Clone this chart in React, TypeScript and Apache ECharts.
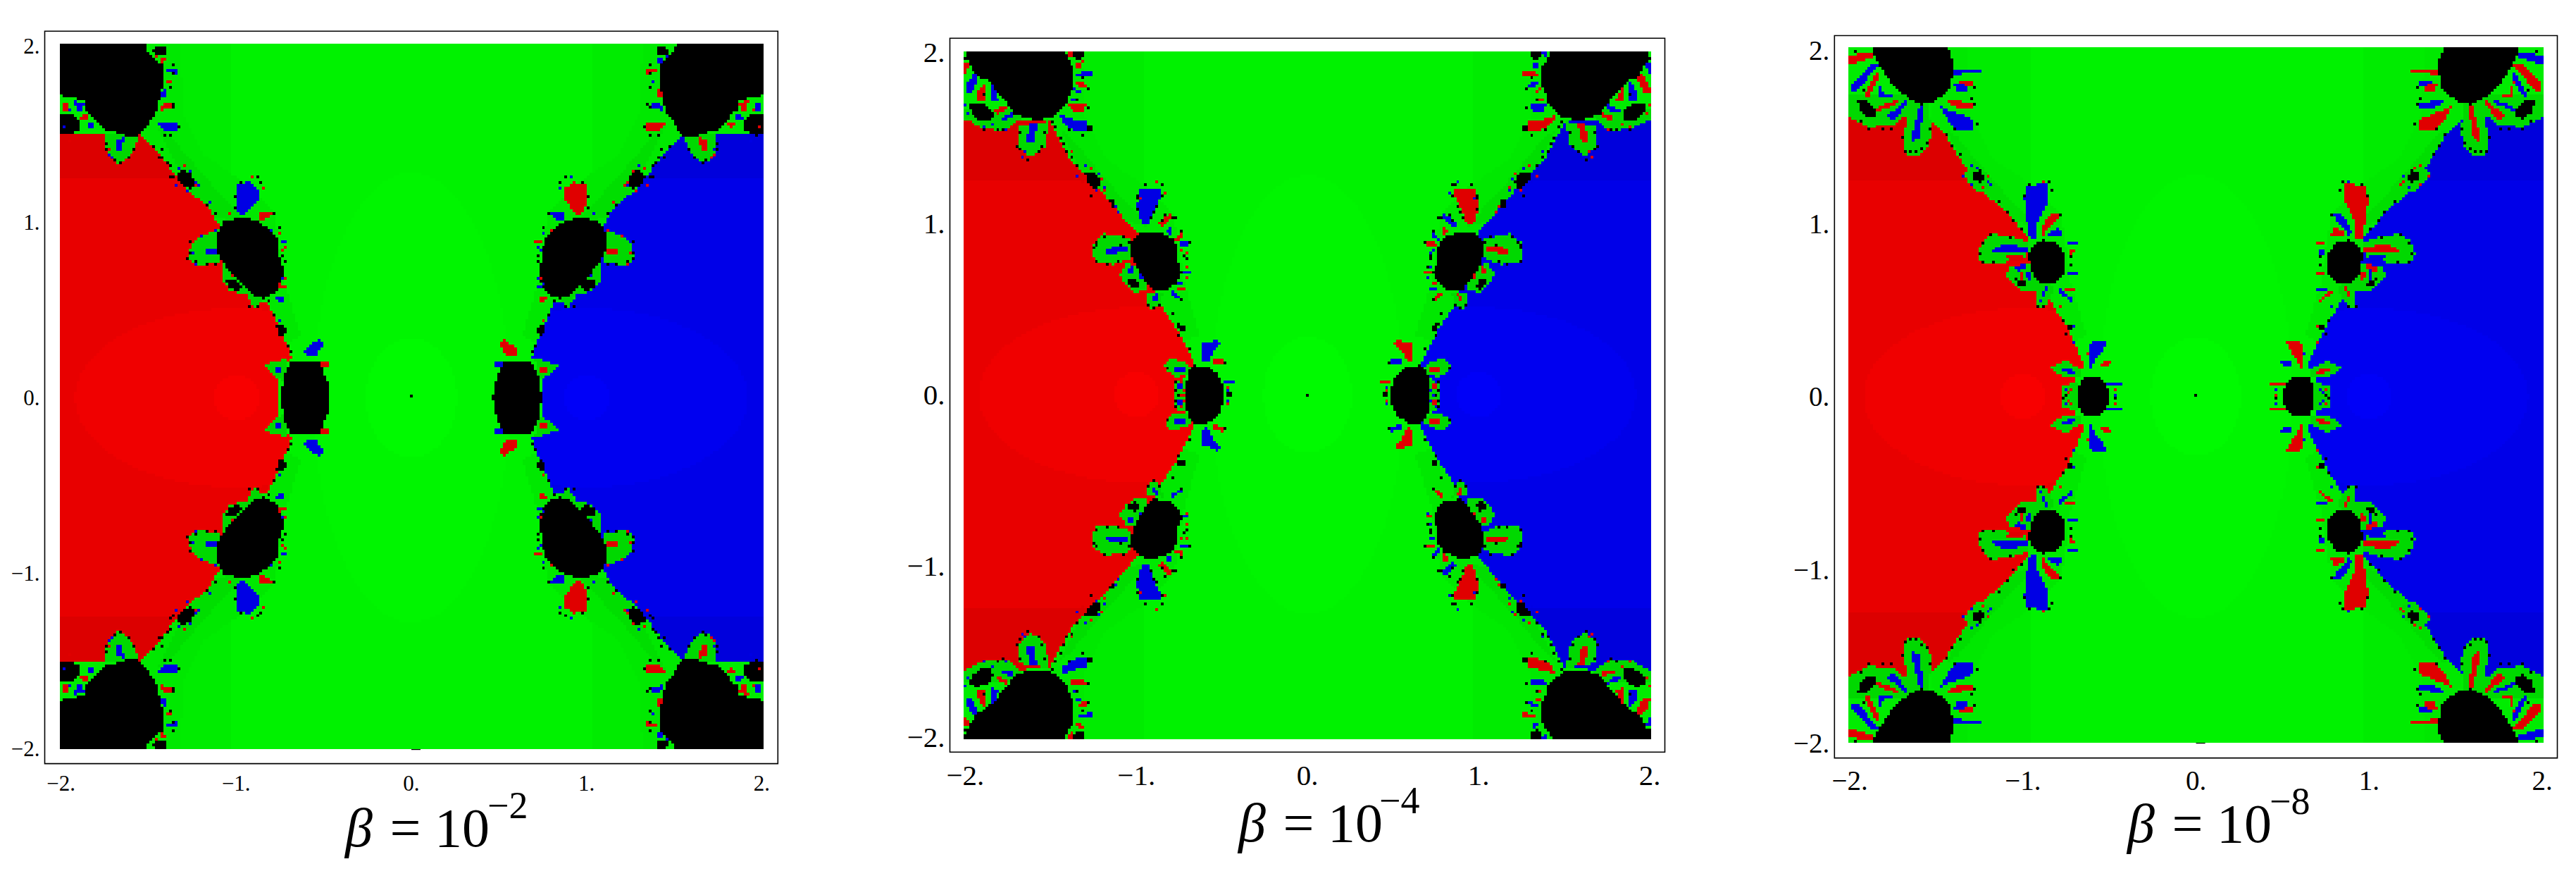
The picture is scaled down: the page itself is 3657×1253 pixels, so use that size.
import React, { useEffect, useRef } from "react";
import * as echarts from "echarts";

type Pt = [number, number];
type Poly = Pt[];

const tickValues = [-2, -1, 0, 1, 2];
const tickText = ["\u22122.", "\u22121.", "0.", "1.", "2."];
const captions = ["\u03b2 = 10", "\u03b2 = 10", "\u03b2 = 10"];
const exponents = ["\u22122", "\u22124", "\u22128"];

// ---------- Basin outlines, upper-left quadrant in data units ----------
const regionP1: Poly[] = [[[-2.03,1.5],[-1.55,1.5],[-1.45,1.4],[-1.36,1.284],[-1.268,1.17],[-1.16,1.09],[-1.09,.963],[-1,.7],[-.93,.562],[-.822,.546],[-.76,.417],[-.698,.273],[-.683,.225],[-.75,.17],[-.75,-.02],[-2.03,-.02]]];
const greenP1: Poly[] = [
  [[-1.742,1.509],[-1.554,1.495],[-1.581,1.422],[-1.615,1.368],[-1.668,1.328],[-1.715,1.362],[-1.742,1.422]],
  [[-1.099,.954],[-1.206,.921],[-1.259,.874],[-1.273,.787],[-1.219,.753],[-1.099,.767]],
  [[-1.085,.78],[-1.085,.673],[-1.031,.606],[-.938,.586],[-.897,.506],[-.837,.566],[-.938,.673]],
  [[-.84,.19],[-.7,.226],[-.73,.1],[-.79,.13]],
];
const blueP1: Poly[] = [
  [[-.998,1.208],[-.931,1.228],[-.873,1.188],[-.877,1.128],[-.918,1.074],[-.958,1.034],[-.991,1.061],[-.998,1.128]],
  [[-1.46,1.576],[-1.34,1.562],[-1.333,1.522],[-1.393,1.513],[-1.434,1.549]],
  [[-1.682,1.475],[-1.641,1.482],[-1.655,1.415],[-1.686,1.415]],
  [[-1.179,.85],[-1.078,.85],[-1.099,.827],[-1.172,.81]],
  [[-.743,.903],[-.696,.9],[-.71,.874],[-.739,.874]],
  [[-1.4,1.877],[-1.333,1.877],[-1.34,1.847],[-1.407,1.85]],
  [[-1.409,1.763],[-1.399,1.763],[-1.4,1.705],[-1.447,1.705],[-1.444,1.73]],
  [[-1.923,1.69],[-1.863,1.683],[-1.883,1.639],[-1.909,1.639]],
  [[-1.849,1.569],[-1.802,1.572],[-1.822,1.542],[-1.846,1.545]],
  [[-.612,.273],[-.529,.337],[-.498,.305],[-.545,.241],[-.591,.234]],
  [[-.777,.58],[-.73,.573],[-.723,.547],[-.763,.553]],
  [[-.777,.171],[-.735,.171],[-.735,.145],[-.777,.145]],
];
const redP1: Poly[] = [
  [[-.871,1.048],[-.81,1.054],[-.81,1.021],[-.871,1.007]],
  [[-1.427,1.669],[-1.367,1.683],[-1.367,1.649],[-1.427,1.639]],
  [[-1.427,1.943],[-1.4,1.943],[-1.409,1.897],[-1.427,1.897]],
  [[-1.99,1.683],[-1.959,1.683],[-1.959,1.639],[-1.99,1.639]],
  [[-1.909,1.602],[-1.836,1.62],[-1.856,1.582],[-1.889,1.576]],
  [[-1.393,1.81],[-1.353,1.79],[-1.393,1.786]],
  [[-.75,.947],[-.743,.92],[-.77,.92]],
  [[-.75,.633],[-.71,.633],[-.71,.617],[-.75,.617]],
  [[-.529,.209],[-.468,.209],[-.474,.183],[-.529,.183]],
];
const blackP1: Poly[] = [
  [[-2.03,2.02],[-1.511,2.02],[-1.503,1.977],[-1.46,1.93],[-1.414,1.89],[-1.414,1.796],[-1.434,1.716],[-1.447,1.636],[-1.487,1.582],[-1.521,1.526],[-1.554,1.495],[-1.608,1.482],[-1.675,1.509],[-1.742,1.522],[-1.782,1.556],[-1.833,1.62],[-1.869,1.647],[-1.869,1.696],[-1.943,1.71],[-2.03,1.73]],
  [[-2.03,1.616],[-1.93,1.616],[-1.896,1.569],[-1.896,1.522],[-1.97,1.495],[-2.03,1.516]],
  [[-1.478,1.99],[-1.4,1.997],[-1.4,1.943],[-1.46,1.957]],
  [[-1.112,.934],[-1.072,1.001],[-.965,1.028],[-.871,1.001],[-.804,.954],[-.757,.9],[-.75,.807],[-.723,.727],[-.737,.66],[-.777,.593],[-.844,.566],[-.911,.586],[-.958,.633],[-1.018,.7],[-1.078,.773],[-1.105,.82]],
  [[-1.34,1.262],[-1.3,1.302],[-1.253,1.268],[-1.233,1.221],[-1.259,1.181],[-1.313,1.215]],
  [[-1.058,.673],[-1.005,.68],[-.965,.633],[-.991,.613],[-1.045,.62]],
  [[-.77,.419],[-.717,.406],[-.71,.366],[-.75,.352]],
  [[-.745,-.02],[-.729,.112],[-.683,.215],[-.529,.215],[-.474,.08],[-.462,-.02]],
];
const specksP1: Pt[] = [[-1.742,1.449],[-1.742,1.409],[-1.715,1.368],[-1.688,1.355],[-1.664,1.328],[-1.615,1.375],[-1.584,1.415],[-1.467,1.435],[-1.427,1.409],[-1.44,1.375],[-1.414,1.362],[-1.393,1.335],[-1.373,1.312],[-1.373,1.262],[-1.36,1.248],[-1.219,1.201],[-1.172,1.101],[-1.125,1.041],[-1.005,1.148],[-1.005,1.074],[-.978,1.228],[-.884,1.248],[-.857,1.221],[-.784,1.041],[-.75,.961],[-.73,.807],[-.723,.78],[-.931,.513],[-.877,.519],[-.817,.546],[-.784,.479],[-.703,.299],[-.69,.259],[-1.259,.88],[-1.266,.827],[-1.273,.787],[-1.233,.773],[-1.172,.753],[-1.119,.767],[-1.36,1.89],[-1.36,1.843],[-1.367,1.776],[-1.353,1.679],[-1.36,1.649],[-1.407,1.502],[-1.367,1.502],[-1.326,1.542]];
const specksBlueP1: Pt[] = [[-1.326,1.308],[-1.266,1.295],[-1.233,1.228],[-1.34,1.215],[-1.279,1.168],[-1.219,1.201],[-1.152,1.108],[-1.729,1.389],[-1.708,1.371],[-1.119,.947],[-1.199,.927],[-1.246,.82],[-1.233,.753],[-.797,.954],[-.737,.673],[-.75,.433],[-1.983,1.536],[-1.95,1.636]];
const specksRedP1: Pt[] = [[-1.293,1.312],[-1.233,1.215],[-1.326,1.215],[-1.729,1.409],[-1.038,1.041],[-.911,1.262],[-.847,1.188],[-.804,1.054],[-1.025,.7],[-.75,.64],[-.723,.687],[-.717,.86],[-.737,.84],[-1.943,1.469],[-1.454,1.937]];

const regionP2: Poly[] = [[[-2.03,1.62],[-1.506,1.6],[-1.386,1.368],[-1.205,1.187],[-.993,.941],[-.95,.75],[-.842,.497],[-.752,.365],[-.655,.168],[-.72,.1],[-.75,-.02],[-2.03,-.02]]];
const greenP2: Poly[] = [
  [[-2.03,1.619],[-1.96,1.592],[-1.891,1.55],[-1.761,1.544],[-1.713,1.585],[-1.672,1.619],[-1.672,1.674],[-2.03,1.674]],
  [[-1.688,1.566],[-1.506,1.6],[-1.537,1.451],[-1.621,1.385],[-1.688,1.451]],
  [[-1.254,.886],[-1.185,.941],[-1.034,.913],[-1.034,.797],[-1.131,.762],[-1.233,.769],[-1.261,.817]],
  [[-1.096,.701],[-1.055,.769],[-1,.755],[-.938,.659],[-.932,.611],[-1.007,.598],[-1.069,.653]],
  [[-.932,.591],[-.843,.598],[-.863,.522],[-.911,.502],[-.934,.536]],
  [[-.836,.172],[-.794,.213],[-.712,.186],[-.664,.152],[-.712,.111],[-.774,.104],[-.822,.138]],
  [[-.774,.083],[-.712,.09],[-.712,-.02],[-.774,-.02]],
];
const blueP2: Poly[] = [
  [[-.979,1.201],[-.862,1.201],[-.862,1.153],[-.91,1.057],[-.931,.988],[-.965,.988],[-1,1.098]],
  [[-1.179,.849],[-1.117,.865],[-1.048,.868],[-1.048,.838],[-1.124,.824],[-1.176,.824]],
  [[-.616,.303],[-.575,.303],[-.534,.33],[-.506,.303],[-.547,.262],[-.582,.193],[-.616,.2]],
  [[-.774,.166],[-.712,.166],[-.712,.135],[-.774,.135]],
  [[-1.994,1.811],[-1.953,1.873],[-1.912,1.873],[-1.96,1.77],[-2.001,1.77]],
  [[-1.843,1.804],[-1.829,1.804],[-1.816,1.736],[-1.768,1.729],[-1.843,1.715]],
  [[-1.795,1.619],[-1.726,1.649],[-1.72,1.619],[-1.781,1.605]],
  [[-1.617,1.585],[-1.576,1.585],[-1.603,1.468],[-1.637,1.468],[-1.637,1.509]],
  [[-1.445,1.633],[-1.356,1.605],[-1.288,1.598],[-1.288,1.53],[-1.37,1.544],[-1.432,1.592]],
  [[-1.322,1.887],[-1.26,1.887],[-1.26,1.859],[-1.349,1.866]],
  [[-1.363,1.79],[-1.329,1.784],[-1.329,1.767],[-1.356,1.767]],
  [[-1.384,1.729],[-1.349,1.742],[-1.349,1.718],[-1.384,1.718]],
  [[-.828,.96],[-.794,.981],[-.787,.926],[-.821,.947]],
  [[-.74,.899],[-.698,.899],[-.698,.872],[-.753,.872]],
  [[-1.048,.742],[-1.017,.755],[-1.021,.714],[-1.048,.714]],
  [[-.984,.721],[-.959,.68],[-.984,.68]],
  [[-.897,.584],[-.874,.591],[-.884,.543],[-.901,.543]],
  [[-.788,.605],[-.726,.556],[-.733,.543],[-.788,.577]],
  [[-.726,.721],[-.682,.725],[-.682,.711],[-.726,.701]],
  [[-.76,.659],[-.733,.659],[-.733,.646],[-.76,.646]],
  [[-.493,.083],[-.424,.081],[-.424,.07],[-.486,.07]],
  [[-.76,.06],[-.73,.06],[-.73,.03],[-.76,.03]],
];
const redP2: Poly[] = [
  [[-1.404,1.699],[-1.294,1.699],[-1.301,1.66],[-1.37,1.653]],
  [[-1.925,1.777],[-1.884,1.825],[-1.884,1.722],[-1.925,1.722]],
  [[-1.829,1.66],[-1.754,1.694],[-1.761,1.66],[-1.816,1.64]],
  [[-2.008,1.935],[-1.973,1.941],[-1.994,1.88],[-2.008,1.88]],
  [[-1.349,1.825],[-1.301,1.825],[-1.288,1.79],[-1.342,1.804]],
  [[-1.349,1.935],[-1.308,1.955],[-1.322,1.914],[-1.349,1.914]],
  [[-1.397,2.02],[-1.37,2.02],[-1.377,1.969],[-1.397,1.976]],
  [[-.876,1.0],[-.828,1.043],[-.794,1.057],[-.794,1.029],[-.849,.974]],
  [[-.78,.913],[-.732,.947],[-.732,.919],[-.766,.899]],
  [[-.76,.625],[-.712,.625],[-.712,.615],[-.76,.615]],
  [[-.554,.207],[-.493,.214],[-.493,.186],[-.554,.176]],
  [[-.75,.02],[-.72,.02],[-.72,-.01],[-.75,-.01]],
];
const blackP2: Poly[] = [
  [[-1.994,2.02],[-1.432,2.02],[-1.397,1.955],[-1.363,1.907],[-1.37,1.852],[-1.37,1.797],[-1.397,1.742],[-1.404,1.701],[-1.452,1.653],[-1.493,1.619],[-1.589,1.605],[-1.651,1.619],[-1.713,1.64],[-1.754,1.701],[-1.795,1.749],[-1.836,1.797],[-1.877,1.839],[-1.925,1.852],[-1.96,1.907],[-1.994,1.962]],
  [[-1.973,1.694],[-1.925,1.708],[-1.864,1.681],[-1.836,1.633],[-1.857,1.598],[-1.905,1.598],[-1.96,1.64],[-1.973,1.667]],
  [[-1.37,2.02],[-1.308,2.02],[-1.301,1.969],[-1.342,1.955],[-1.363,1.976]],
  [[-1.301,1.297],[-1.24,1.297],[-1.212,1.249],[-1.219,1.208],[-1.253,1.208],[-1.294,1.256]],
  [[-1.288,1.571],[-1.257,1.571],[-1.257,1.539],[-1.288,1.539]],
  [[-1.158,1.14],[-1.126,1.14],[-1.126,1.098],[-1.151,1.098]],
  [[-1.028,.893],[-.98,.947],[-.89,.954],[-.794,.92],[-.76,.865],[-.76,.783],[-.733,.714],[-.76,.659],[-.808,.618],[-.904,.611],[-.945,.659],[-1,.742],[-1.028,.81]],
  [[-1.048,.673],[-1,.68],[-.986,.639],[-1.007,.618],[-1.041,.639]],
  [[-.774,.419],[-.719,.406],[-.719,.378],[-.746,.371]],
  [[-.698,.138],[-.657,.172],[-.582,.166],[-.52,.118],[-.493,.056],[-.493,-.02],[-.712,-.02],[-.712,.05]],
  [[-.472,.008],[-.445,.008],[-.445,-.02],[-.472,-.02]],
];
const specksP2: Pt[] = [[-1.884,1.55],[-1.809,1.55],[-1.781,1.548],[-1.699,1.454],[-1.678,1.534],[-1.683,1.427],[-1.63,1.375],[-1.576,1.42],[-1.551,1.454],[-1.534,1.537],[-1.493,1.598],[-1.473,1.564],[-1.438,1.502],[-1.425,1.468],[-1.404,1.42],[-1.37,1.393],[-1.342,1.338],[-1.26,1.166],[-.993,1.159],[-.993,1.084],[-.951,1.221],[-.849,1.221],[-.849,1.166],[-.883,1.098],[-.91,1.036],[-.78,1.036],[-.842,1.015],[-.739,.954],[-.691,.892],[-1.39,1.55],[-1.315,1.516],[-1.315,1.852],[-1.342,1.729],[-1.281,1.79],[-1.281,1.681],[-1.191,.926],[-1.233,.892],[-1.246,.865],[-1.075,.926],[-1.041,.892],[-1.884,1.756],[-2.001,1.955],[-.891,.509],[-.863,.529],[-.932,.529],[-.781,.481],[-.753,.351],[-.692,.268],[-.486,.193],[-.822,.152],[-.712,.79],[-.719,.81],[-.705,.755],[-1.24,.879],[-1.24,.783],[-1.165,.766],[-1.11,.78],[-1.192,.927],[-1.076,.927],[-1.096,.876],[-.74,.55],[-.836,1.057],[-.774,1.037],[-.74,.954],[-.993,1.153],[-.952,1.222],[-.856,1.222],[-.849,1.167],[-.895,1.071],[-1.144,1.126],[-1.103,1.071],[-.77,.03],[-.75,.0],[-.766,.075]];
const specksBlueP2: Pt[] = [[-1.294,1.338],[-1.349,1.276],[-1.212,1.29],[-1.178,1.214],[-1.24,1.201],[-1.123,1.105],[-1.102,1.07],[-1.761,1.55],[-1.891,1.564],[-1.836,1.585],[-1.665,1.39],[-1.647,1.42],[-2.001,1.694],[-1.987,1.646],[-.46,.03]];
const specksRedP2: Pt[] = [[-1.377,1.42],[-1.267,1.324],[-1.198,1.262],[-1.185,1.194],[-1.315,1.235],[-.883,1.249],[-.835,1.18],[-.98,1.15],[-.74,.845],[-.712,.831],[-.712,.755],[-.705,.687],[-.745,.07],[-.72,.03],[-.47,.05]];
const bottomBlackP2: Poly[] = [[[-2.03,-2.02],[-1.98,-1.94],[-1.85,-1.8],[-1.8,-2.02]]];

const regionP3: Poly[] = [[[-2.03,1.625],[-1.537,1.605],[-1.442,1.503],[-1.374,1.395],[-1.238,1.191],[-1.103,1.069],[-.967,.92],[-.96,.811],[-.818,.513],[-.763,.431],[-.696,.296],[-.641,.174],[-.7,.1],[-.7,-.02],[-2.03,-.02]]];
const greenP3: Poly[] = [
  [[-2.03,1.625],[-1.896,1.558],[-1.754,1.564],[-1.693,1.612],[-1.537,1.605],[-1.537,1.75],[-2.03,1.75]],
  [[-1.645,1.68],[-1.55,1.68],[-1.526,1.53],[-1.55,1.449],[-1.578,1.401],[-1.672,1.395],[-1.693,1.476],[-1.679,1.558]],
  [[-.967,.893],[-1.076,.927],[-1.184,.94],[-1.238,.9],[-1.265,.818],[-1.232,.764],[-1.13,.764],[-.981,.811]],
  [[-.967,.771],[-1.076,.744],[-1.096,.696],[-1.008,.601],[-.926,.608],[-.926,.52],[-.879,.506],[-.818,.621]],
  [[-1.347,1.286],[-1.292,1.34],[-1.198,1.279],[-1.164,1.218],[-1.252,1.178],[-1.32,1.245]],
  [[-.838,.174],[-.75,.208],[-.662,.154],[-.669,.113],[-.75,.106],[-.825,.147]],
  [[-.777,.066],[-.682,.079],[-.682,-.02],[-.777,-.02]],
];
const blueP3: Poly[] = [
  [[-.981,1.218],[-.852,1.232],[-.852,1.137],[-.913,1.015],[-.919,.906],[-.96,.92],[-.987,1.055],[-.994,1.15]],
  [[-1.171,.852],[-1.103,.886],[-.967,.859],[-.974,.832],[-1.103,.832],[-1.171,.825]],
  [[-1.598,1.68],[-1.577,1.68],[-1.591,1.503],[-1.639,1.469],[-1.639,1.517]],
  [[-1.489,1.7],[-1.455,1.666],[-1.293,1.605],[-1.286,1.53],[-1.374,1.541],[-1.428,1.585]],
  [[-1.394,1.883],[-1.245,1.89],[-1.245,1.867],[-1.394,1.863]],
  [[-1.991,1.808],[-1.876,1.924],[-1.828,1.924],[-1.957,1.768],[-1.991,1.768]],
  [[-1.842,1.829],[-1.828,1.734],[-1.754,1.734],[-1.815,1.754],[-1.828,1.808]],
  [[-1.795,1.612],[-1.679,1.713],[-1.672,1.686],[-1.74,1.605]],
  [[-.987,.723],[-.947,.723],[-.947,.676],[-.987,.683]],
  [[-.906,.54],[-.865,.642],[-.852,.642],[-.879,.574]],
  [[-.791,.621],[-.709,.56],[-.716,.547],[-.791,.594]],
  [[-.608,.31],[-.513,.33],[-.54,.269],[-.587,.215],[-.601,.161],[-.619,.161],[-.619,.242]],
  [[-.777,.161],[-.723,.167],[-.682,.127],[-.764,.14]],
  [[-.52,.086],[-.425,.086],[-.425,.072],[-.52,.072]],
  [[-.73,.072],[-.682,.072],[-.682,.059],[-.73,.059]],
  [[-1.401,1.81],[-1.325,1.802],[-1.319,1.761],[-1.374,1.761]],
  [[-.75,.899],[-.682,.899],[-.689,.886],[-.75,.879]],
  [[-.743,.723],[-.682,.723],[-.689,.71],[-.743,.71]],
  [[-.858,.947],[-.79,.981],[-.777,.92],[-.852,.92]],
  [[-1.048,.744],[-.994,.771],[-.98,.75],[-1.035,.716]],
];
const redP3: Poly[] = [
  [[-2.03,1.965],[-1.849,1.992],[-1.849,1.965],[-2.03,1.903]],
  [[-1.923,1.727],[-1.862,1.842],[-1.835,1.876],[-1.828,1.849],[-1.896,1.72]],
  [[-1.849,1.666],[-1.72,1.72],[-1.713,1.7],[-1.835,1.646]],
  [[-1.449,1.72],[-1.293,1.693],[-1.293,1.666],[-1.374,1.666],[-1.435,1.7]],
  [[-1.394,1.829],[-1.286,1.822],[-1.286,1.788],[-1.347,1.802]],
  [[-.899,.96],[-.845,1.049],[-.784,1.062],[-.791,1.042],[-.865,.96],[-.879,.92]],
  [[-1.103,.811],[-.994,.811],[-.994,.79],[-1.062,.777]],
  [[-.736,.852],[-.702,.845],[-.709,.811],[-.736,.811]],
  [[-.763,.628],[-.702,.628],[-.702,.615],[-.763,.615]],
  [[-.54,.215],[-.486,.215],[-.5,.188],[-.554,.167]],
  [[-1.008,.73],[-1.001,.73],[-1.001,.649],[-1.014,.649]],
];
const blackP3: Poly[] = [
  [[-1.862,2.02],[-1.435,2.02],[-1.401,1.937],[-1.408,1.842],[-1.428,1.761],[-1.469,1.734],[-1.523,1.7],[-1.591,1.686],[-1.639,1.713],[-1.7,1.747],[-1.767,1.822],[-1.835,1.924],[-1.862,1.978]],
  [[-1.957,1.707],[-1.903,1.713],[-1.856,1.666],[-1.842,1.625],[-1.883,1.605],[-1.944,1.646]],
  [[-1.286,1.286],[-1.245,1.307],[-1.218,1.259],[-1.252,1.232],[-1.286,1.259]],
  [[-.967,.811],[-.947,.866],[-.886,.906],[-.804,.892],[-.757,.811],[-.763,.703],[-.818,.655],[-.886,.655],[-.94,.696]],
  [[-1.042,.682],[-.994,.676],[-.987,.635],[-1.021,.635]],
  [[-.743,.418],[-.716,.411],[-.716,.377],[-.743,.377]],
  [[-.676,.066],[-.655,.106],[-.554,.106],[-.499,.038],[-.499,-.02],[-.676,-.02]],
];
const specksP3: Pt[] = [[-1.971,1.985],[-1.923,1.775],[-1.937,1.598],[-1.89,1.551],[-1.808,1.551],[-1.754,1.551],[-1.693,1.49],[-1.679,1.422],[-1.645,1.408],[-1.618,1.408],[-1.584,1.425],[-1.55,1.456],[-1.534,1.544],[-1.442,1.517],[-1.408,1.449],[-1.367,1.401],[-1.388,1.551],[-1.265,1.571],[-1.279,1.693],[-1.293,1.713],[-1.282,1.791],[-1.143,1.123],[-1.089,1.056],[-1.062,1.008],[-1.008,.961],[-.987,1.164],[-.96,1.218],[-.852,1.232],[-.831,1.198],[-1.184,.94],[-1.076,.927],[-1.232,.893],[-1.252,.818],[-1.232,.771],[-1.171,.771],[-1.008,.649],[-.919,.526],[-.879,.513],[-.777,1.042],[-.716,.804],[-.716,.757],[-.763,.445],[-.75,.357],[-.771,.011],[-.757,-.009],[-.459,.011]];
const specksBlueP3: Pt[] = [[-1.299,1.34],[-1.265,1.313],[-1.347,1.279],[-1.204,1.245],[-1.177,1.218],[-1.299,1.218],[-.702,.404],[-.702,.316],[-.75,.045],[-.459,-.002]];
const specksRedP3: Pt[] = [[-1.198,1.272],[-1.238,1.205],[-.791,.52],[-.628,.242],[-.879,1.245],[-.72,.036],[-.735,.02],[-.465,.038]];

// Faint contour bands of the three basins
const greenShadeOuter: Poly = [[-1.42,2.02],[-1.32,2.02],[-1.3,1.62],[-1.18,1.38],[-.95,1.22],[-.78,1.05],[-.72,.65],[-.63,.35],[-.75,.3],[-1.6,1.4]];
const greenShadeInner: Poly = [[-1.45,1.55],[-1.38,1.5],[-1.2,1.28],[-1,1.06],[-.93,.98],[-1.2,1.05]];
const greenTopBand = [1.03, 0.96, 0.96];
const greenEllipses = [[0, 0, 0.56, 1.28], [0, 0, 0.26, 0.34]];
const basinEllipses = [[-1.0, 0, 1.65, 1.14], [-1.0, 0, 0.92, 0.51], [-1.0, 0, 0.13, 0.13]];

const PALETTE = [
  "#00ec00", "#00f200", "#00f500", "#00fa00", "#00e800", "#00de00", "#00d800",
  "#dc0000", "#e80000", "#f00000", "#f80000", "#ff0000", "#e00000",
  "#0000dc", "#0000e8", "#0000f0", "#0000f8", "#0000ff", "#0000e4",
  "#000000",
];
const G = { base: 0, mid: 1, hi: 2, top: 3, sh1: 4, sh2: 5, petal: 6 };
const RED0 = 7, BLUE0 = 13, BLACK = 19;

const CELL = 0.016;

type Panel = {
  frame: [number, number, number, number];
  range: [number, number, number, number];
  image: [number, number, number, number];
  region: Poly[]; green: Poly[]; blue: Poly[]; red: Poly[]; black: Poly[]; specks: Pt[]; specksBlue: Pt[]; specksRed: Pt[]; bottomBlack: Poly[];
  topBand: number; fontSize: number; capX: number; capY: number; expX: number; expY: number;
};

const panels: Panel[] = [
  { frame: [63.5, 44.3, 1040.8, 1039.3], range: [-2.0925, 2.092, -2.083, 2.087], image: [-2.006, 2.009, -2.0, 2.008],
    region: regionP1, green: greenP1, blue: blueP1, red: redP1, black: blackP1, specks: specksP1, specksBlue: specksBlueP1, specksRed: specksRedP1, bottomBlack: [],
    topBand: greenTopBand[0], fontSize: 31, capX: 490, capY: 1203, expX: 692, expY: 1163 },
  { frame: [1348.5, 54.3, 1015, 1013], range: [-2.09, 2.088, -2.087, 2.082], image: [-2.01, 2.004, -2.013, 2.003],
    region: regionP2, green: greenP2, blue: blueP2, red: redP2, black: blackP2, specks: specksP2, specksBlue: specksBlueP2, specksRed: specksRedP2, bottomBlack: bottomBlackP2,
    topBand: greenTopBand[1], fontSize: 41, capX: 1758, capY: 1196, expX: 1958, expY: 1156 },
  { frame: [2604.3, 50.5, 1026.2, 1025.1], range: [-2.089, 2.0875, -2.087, 2.085], image: [-2.009, 2.01, -2.0, 2.01],
    region: regionP3, green: greenP3, blue: blueP3, red: redP3, black: blackP3, specks: specksP3, specksBlue: specksBlueP3, specksRed: specksRedP3, bottomBlack: [],
    topBand: greenTopBand[2], fontSize: 39, capX: 3020, capY: 1197, expX: 3222, expY: 1157 },
];

function rasterize(p: Panel): number[][] {
  const [xL, xR, yB, yT] = p.image;
  const nx = Math.round((xR - xL) / CELL);
  const ny = Math.round((yT - yB) / CELL);
  const grid = new Uint8Array(nx * ny);
  const cx = (i: number) => xL + (i + 0.5) * CELL;
  const cy = (j: number) => yB + (j + 0.5) * CELL;

  const fill = (poly: Poly, sx: number, sy: number, color: (x: number, y: number) => number) => {
    const pts = poly.map(([x, y]) => [x * sx, y * sy]);
    let lo = Infinity, hi = -Infinity;
    pts.forEach((q) => { lo = Math.min(lo, q[1]); hi = Math.max(hi, q[1]); });
    const j0 = Math.max(0, Math.floor((lo - yB) / CELL));
    const j1 = Math.min(ny - 1, Math.ceil((hi - yB) / CELL));
    for (let j = j0; j <= j1; j++) {
      const y = cy(j);
      const xs: number[] = [];
      for (let k = 0; k < pts.length; k++) {
        const a = pts[k], b = pts[(k + 1) % pts.length];
        if ((a[1] <= y && b[1] > y) || (b[1] <= y && a[1] > y)) {
          xs.push(a[0] + ((y - a[1]) / (b[1] - a[1])) * (b[0] - a[0]));
        }
      }
      xs.sort((u, v) => u - v);
      for (let m = 0; m + 1 < xs.length; m += 2) {
        const i0 = Math.max(0, Math.ceil((xs[m] - xL) / CELL - 0.5));
        const i1 = Math.min(nx - 1, Math.floor((xs[m + 1] - xL) / CELL - 0.5));
        for (let i = i0; i <= i1; i++) grid[j * nx + i] = color(cx(i), y);
      }
    }
  };
  const inEll = (x: number, y: number, e: number[], sx: number) => {
    const dx = (x - e[0] * sx) / e[2], dy = (y - e[1]) / e[3];
    return dx * dx + dy * dy <= 1;
  };
  const dot = (x: number, y: number, c: number) => {
    const i = Math.floor((x - xL) / CELL), j = Math.floor((y - yB) / CELL);
    if (i >= 0 && i < nx && j >= 0 && j < ny) grid[j * nx + i] = c;
  };

  // green base and its contour bands
  for (let j = 0; j < ny; j++) {
    for (let i = 0; i < nx; i++) {
      const x = cx(i), y = cy(j);
      let c = Math.abs(x) < p.topBand ? G.mid : G.base;
      if (inEll(x, y, greenEllipses[0], 1)) c = G.hi;
      if (inEll(x, y, greenEllipses[1], 1)) c = G.top;
      grid[j * nx + i] = c;
    }
  }
  const quads: [number, number][] = [[1, 1], [1, -1], [-1, 1], [-1, -1]];
  quads.forEach(([f, sy]) => {
    const left = f === 1; // outlines are stored for the left half; f=-1 mirrors them right, swapping red and blue
    const mainBase = left ? RED0 : BLUE0;
    const petalSame = left ? RED0 + 5 : BLUE0 + 5;
    const petalOther = left ? BLUE0 + 5 : RED0 + 5;
    fill(greenShadeOuter, f, sy, () => G.sh1);
    fill(greenShadeInner, f, sy, () => G.sh2);
    p.region.forEach((poly) =>
      fill(poly, f, sy, (x, y) => {
        let lvl = 0;
        basinEllipses.forEach((e, k) => { if (inEll(x, y, e, left ? 1 : -1)) lvl = k + 1; });
        if (lvl === 0 && Math.abs(y) < 1.25) lvl = 1;
        return mainBase + lvl;
      })
    );
    p.green.forEach((poly) => fill(poly, f, sy, () => G.petal));
    p.blue.forEach((poly) => fill(poly, f, sy, () => petalOther));
    p.red.forEach((poly) => fill(poly, f, sy, () => petalSame));
    p.black.forEach((poly) => fill(poly, f, sy, () => BLACK));
    p.specks.forEach(([x, y]) => dot(x * f, y * sy, BLACK));
    p.specksBlue.forEach(([x, y]) => dot(x * f, y * sy, petalOther));
    p.specksRed.forEach(([x, y]) => dot(x * f, y * sy, petalSame));
    if (sy === -1) p.bottomBlack.forEach((poly) => fill(poly.map(([x, y]) => [x, -y] as Pt), f, sy, () => BLACK));
  });
  // the isolated black point at the origin
  dot(0, 0, BLACK);

  const runs: number[][] = [];
  for (let j = 0; j < ny; j++) {
    let s = 0;
    for (let i = 1; i <= nx; i++) {
      if (i === nx || grid[j * nx + i] !== grid[j * nx + s]) {
        runs.push([xL + s * CELL, xL + i * CELL, yB + j * CELL, yB + (j + 1) * CELL, grid[j * nx + s]]);
        s = i;
      }
    }
  }
  return runs;
}

export default function App() {
  const ref = useRef<HTMLDivElement>(null);
  useEffect(() => {
    const chart = echarts.init(ref.current!, undefined, { renderer: "svg" });
    const serif = "'Liberation Serif', serif";
    const option: any = {
      animation: false,
      backgroundColor: "#ffffff",
      grid: panels.map((p) => ({
        left: p.frame[0], top: p.frame[1], width: p.frame[2], height: p.frame[3],
        show: true, borderColor: "#000", borderWidth: 1.6, backgroundColor: "transparent", containLabel: false,
      })),
      xAxis: panels.map((p, i) => ({
        type: "value", gridIndex: i, min: p.range[0], max: p.range[1], splitLine: { show: false },
        axisLine: { show: false },
        axisTick: { show: true, inside: true, length: 13, customValues: tickValues, lineStyle: { color: "#000", width: 1.4 } },
        axisLabel: {
          show: true, customValues: tickValues, margin: 12, color: "#000", fontFamily: serif, fontSize: p.fontSize,
          formatter: (v: number) => tickText[tickValues.indexOf(Math.round(v))],
          showMinLabel: true, showMaxLabel: true, hideOverlap: false,
        },
      })),
      yAxis: panels.map((p, i) => ({
        type: "value", gridIndex: i, min: p.range[2], max: p.range[3], splitLine: { show: false },
        axisLine: { show: false },
        axisTick: { show: true, inside: true, length: 13, customValues: tickValues, lineStyle: { color: "#000", width: 1.4 } },
        axisLabel: {
          show: true, customValues: tickValues, margin: 7, color: "#000", fontFamily: serif, fontSize: p.fontSize,
          formatter: (v: number) => tickText[tickValues.indexOf(Math.round(v))],
          showMinLabel: true, showMaxLabel: true, hideOverlap: false,
        },
      })),
      series: panels.map((p, i) => ({
        type: "custom",
        coordinateSystem: "cartesian2d",
        xAxisIndex: i,
        yAxisIndex: i,
        silent: true,
        progressive: 0,
        clip: true,
        encode: { x: [0, 1], y: [2, 3] },
        data: rasterize(p),
        renderItem: (_: any, api: any) => {
          const a = api.coord([api.value(0), api.value(3)]);
          const b = api.coord([api.value(1), api.value(2)]);
          const x0 = Math.round(a[0]), y0 = Math.round(a[1]);
          return {
            type: "rect",
            shape: { x: x0, y: y0, width: Math.round(b[0]) - x0, height: Math.round(b[1]) - y0 },
            style: { fill: PALETTE[api.value(4)] },
          };
        },
      })),
      graphic: panels.flatMap((p, i) => [
        { type: "text", x: p.capX, y: p.capY, style: { text: captions[i].slice(0, 1), fontFamily: serif, fontStyle: "italic", fontSize: 78, fill: "#000", textVerticalAlign: "bottom", lineHeight: 58 } },
        { type: "text", x: p.capX + 44, y: p.capY, style: { text: captions[i].slice(1), fontFamily: serif, fontSize: 78, fill: "#000", textVerticalAlign: "bottom", lineHeight: 58 } },
        { type: "text", x: p.expX, y: p.expY, style: { text: exponents[i], fontFamily: serif, fontSize: 54, fill: "#000", textVerticalAlign: "bottom", lineHeight: 40 } },
      ]),
    };
    chart.setOption(option);
    return () => chart.dispose();
  }, []);
  return <div ref={ref} style={{ position: "absolute", left: 0, top: 0, width: 3657, height: 1253 }} />;
}
